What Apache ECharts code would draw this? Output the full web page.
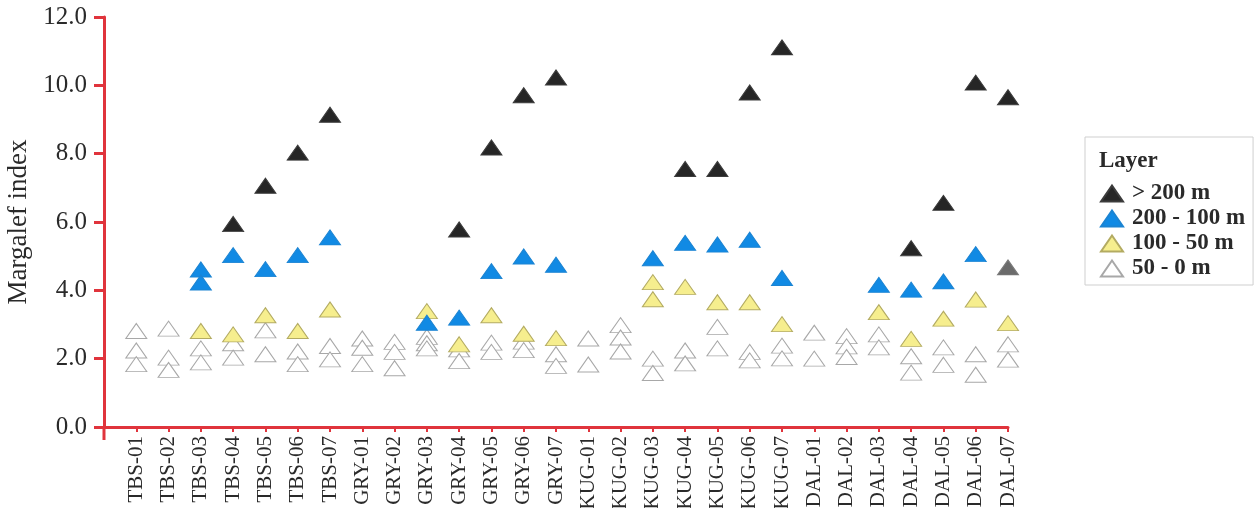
<!DOCTYPE html>
<html>
<head>
<meta charset="utf-8">
<script src="https://cdn.jsdelivr.net/npm/echarts@6/dist/echarts.min.js"></script>
<style>
  html, body { margin: 0; padding: 0; background: #fff; }
  #chart { width: 1259px; height: 508px; }
</style>
</head>
<body>
<div id="chart"></div>
<script>
// Sampling stations along the x axis
const stations = [
  'TBS-01', 'TBS-02', 'TBS-03', 'TBS-04', 'TBS-05', 'TBS-06', 'TBS-07',
  'GRY-01', 'GRY-02', 'GRY-03', 'GRY-04', 'GRY-05', 'GRY-06', 'GRY-07',
  'KUG-01', 'KUG-02', 'KUG-03', 'KUG-04', 'KUG-05', 'KUG-06', 'KUG-07',
  'DAL-01', 'DAL-02', 'DAL-03', 'DAL-04', 'DAL-05', 'DAL-06', 'DAL-07'
];

// Margalef index per station, one list of samples per station and layer
const layerAbove200 = [
  [], [], [], [5.94], [7.06], [8.03], [9.14],
  [], [], [], [5.78], [8.18], [9.71], [10.23],
  [], [], [], [7.55], [7.55], [9.79], [11.11],
  [], [], [], [5.23], [6.56], [10.08], [9.65]
];
const layer200to100 = [
  [], [], [4.61, 4.23], [5.03], [4.62], [5.03], [5.55],
  [], [], [3.05], [3.20], [4.56], [4.99], [4.75],
  [], [], [4.94], [5.39], [5.34], [5.48], [4.36],
  [], [], [4.16], [4.02], [4.26], [5.06], [4.67]
];
const layer100to50 = [
  [], [], [2.81], [2.71], [3.27], [2.81], [3.44],
  [], [], [3.39], [2.42], [3.27], [2.73], [2.60],
  [], [], [4.24, 3.74], [4.10], [3.65], [3.65], [3.01],
  [], [], [3.36], [2.58], [3.17], [3.73], [3.04]
];
const layer50to0 = [
  [2.81, 2.24, 1.84], [2.88, 2.03, 1.67], [2.30, 1.89], [2.45, 2.03], [2.83, 2.13], [2.21, 1.84], [2.37, 1.98],
  [2.59, 2.32, 1.84], [2.49, 2.20, 1.72], [2.64, 2.45, 2.30], [2.27, 1.93], [2.47, 2.20], [2.50, 2.25], [2.13, 1.79],
  [2.59, 1.83], [2.98, 2.62, 2.21], [2.00, 1.58], [2.24, 1.86], [2.93, 2.30], [2.20, 1.95], [2.38, 2.01],
  [2.76, 2.00], [2.66, 2.36, 2.05], [2.71, 2.33], [2.07, 1.59], [2.33, 1.82], [2.13, 1.53], [2.42, 1.97]
];

const layerNames = ['> 200 m', '200 - 100 m', '100 - 50 m', '50 - 0 m'];
const yTicks = [0, 2, 4, 6, 8, 10, 12];

// Station DAL-07 of the 200 - 100 m layer is drawn in grey
const greyStation = 'DAL-07';

const AXIS_RED = '#e0343c';
const SERIF = '"Liberation Serif", "DejaVu Serif", serif';
const TEXT = '#2a2a2a';

function toPoints(lists, greyFill) {
  const pts = [];
  lists.forEach((vals, i) => {
    vals.forEach(v => {
      const p = { value: [i + 1, v] };
      if (greyFill && stations[i] === greyStation) {
        p.itemStyle = { color: greyFill, borderColor: '#7a7a7a' };
      }
      pts.push(p);
    });
  });
  return pts;
}

function layerSeries(name, lists, fill, stroke, greyFill) {
  return {
    name: name,
    type: 'scatter',
    symbol: 'triangle',
    symbolSize: [21, 15],
    itemStyle: { color: fill, borderColor: stroke, borderWidth: 1, opacity: 1 },
    emphasis: { disabled: true },
    data: toPoints(lists, greyFill)
  };
}

const chart = echarts.init(document.getElementById('chart'), null, { renderer: 'canvas' });

chart.setOption({
  animation: false,
  backgroundColor: '#ffffff',
  grid: { left: 104, right: 251, top: 17, bottom: 81, containLabel: false, outerBoundsMode: 'none' },
  title: {
    text: 'Layer',
    left: 1099, top: 150,
    padding: 0,
    textStyle: { fontFamily: SERIF, fontWeight: 'bold', fontSize: 23, color: TEXT }
  },
  legend: {
    orient: 'vertical',
    left: 1085, top: 137,
    padding: [44, 8, 4, 15],
    borderColor: '#cfcfcf',
    borderWidth: 1,
    itemGap: 0,
    itemWidth: 22,
    itemHeight: 16,
    data: layerNames,
    textStyle: {
      fontFamily: SERIF, fontWeight: 'bold', fontSize: 23, lineHeight: 25,
      color: TEXT, padding: [0, 0, 0, 4]
    },
    selectedMode: false
  },
  xAxis: {
    type: 'value',
    min: 0, max: stations.length, interval: 1,
    splitLine: { show: false },
    axisLine: { show: true, lineStyle: { color: AXIS_RED, width: 3 } },
    axisTick: { show: true, length: 5, lineStyle: { color: AXIS_RED, width: 2 } },
    axisLabel: {
      rotate: 90,
      margin: 9,
      fontFamily: SERIF, fontSize: 21, color: TEXT,
      showMinLabel: true, showMaxLabel: true,
      formatter: v => stations[v - 1] || ''
    }
  },
  yAxis: {
    type: 'value',
    min: yTicks[0], max: yTicks[yTicks.length - 1], interval: yTicks[1] - yTicks[0],
    name: 'Margalef index',
    nameLocation: 'middle',
    nameGap: 63,
    nameRotate: 90,
    nameTextStyle: { fontFamily: SERIF, fontSize: 27, color: TEXT },
    splitLine: { show: false },
    axisLine: { show: true, lineStyle: { color: AXIS_RED, width: 3 } },
    axisTick: { show: true, length: 10, lineStyle: { color: AXIS_RED, width: 3 } },
    axisLabel: {
      margin: 17,
      fontFamily: SERIF, fontSize: 25, color: TEXT,
      formatter: v => v.toFixed(1)
    }
  },
  series: [
    layerSeries(layerNames[3], layer50to0, '#ffffff', '#a8a8a8'),
    layerSeries(layerNames[2], layer100to50, '#f6ee8e', '#b3ab62'),
    layerSeries(layerNames[1], layer200to100, '#118ae4', '#1c84d2', '#6b6b6b'),
    layerSeries(layerNames[0], layerAbove200, '#262626', '#3c3c3c')
  ]
});

// The y axis line runs a little below the x axis
const origin = chart.convertToPixel({ gridIndex: 0 }, [0, 0]);
chart.setOption({
  graphic: [{
    type: 'line',
    shape: { x1: origin[0], y1: origin[1], x2: origin[0], y2: origin[1] + 13 },
    style: { stroke: AXIS_RED, lineWidth: 3 },
    silent: true
  }]
});
</script>
</body>
</html>
